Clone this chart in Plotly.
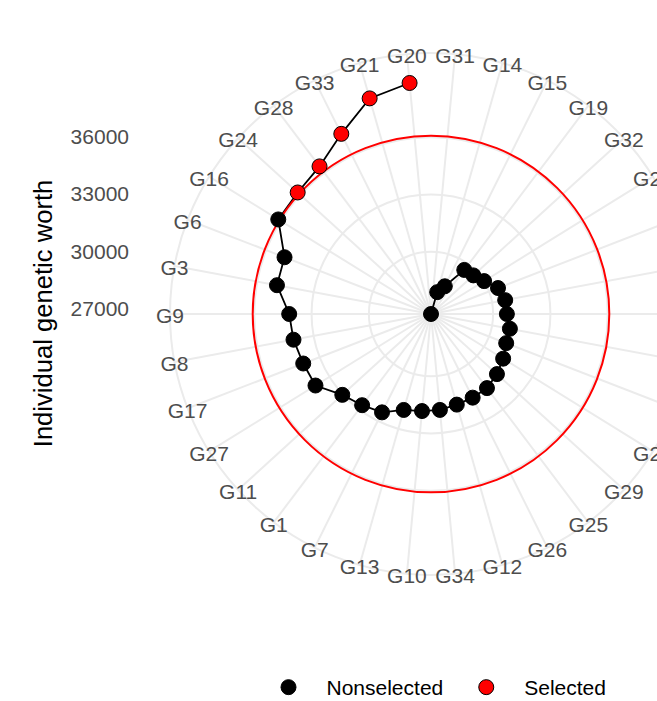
import plotly.graph_objects as go

# ---- data ----
genotypes = ["G31", "G14", "G15", "G19", "G32", "G22", "G4", "G18", "G30", "G5",
             "G2", "G23", "G29", "G25", "G26", "G12", "G34", "G10", "G13", "G7",
             "G1", "G11", "G27", "G17", "G8", "G9", "G3", "G6", "G16", "G24",
             "G28", "G33", "G21", "G20"]
worth = [26750, 27940, 28370, 29640, 29750, 30020, 30510, 30700, 30720, 30950,
         30970, 31190, 31420, 31610, 31640, 31680, 31790, 31850, 31970, 32500,
         32730, 33030, 33860, 33920, 34070, 34170, 34950, 34970, 36150, 36190,
         36430, 37280, 38480, 38890]
selected = ["G24", "G28", "G33", "G21", "G20"]
threshold = 36080
r_ticks = [27000, 30000, 33000, 36000]
r_ticktext = ["27000", "30000", "33000", "36000"]
legend_names = ["Nonselected", "Selected"]
y_title = "Individual genetic worth"

# ---- layout geometry (pixels measured from the top-left of the page) ----
W, H = 728, 708
rmin, rmax = min(worth), max(worth)
r_edge = rmin + (rmax - rmin) * 0.45 / 0.4   # ggplot polar: data to 0.4, grid to 0.45

cx_px, cy_px, R_px = 431, 314, 261


def dom(cy):
    return dict(x=[(cx_px - R_px) / W, (cx_px + R_px) / W],
                y=[(H - cy - R_px) / H, (H - cy + R_px) / H])


GRID = "#EBEBEB"
FONT = "Liberation Sans, Arial, sans-serif"
TXT = "#4D4D4D"
FS = 21

fig = go.Figure()

# connecting line (grid layer)
fig.add_trace(go.Scatterpolar(
    r=worth, theta=genotypes, mode="lines", line=dict(color="black", width=1.8),
    showlegend=False, hoverinfo="skip", subplot="polar", cliponaxis=False))

non_g = [g for g in genotypes if g not in selected]
non_v = [v for g, v in zip(genotypes, worth) if g not in selected]
sel_g = [g for g in genotypes if g in selected]
sel_v = [v for g, v in zip(genotypes, worth) if g in selected]

fig.add_trace(go.Scatterpolar(
    r=non_v, theta=non_g, mode="markers", name=legend_names[0],
    marker=dict(color="black", size=15, line=dict(color="black", width=1)),
    subplot="polar2", cliponaxis=False))
fig.add_trace(go.Scatterpolar(
    r=sel_v, theta=sel_g, mode="markers", name=legend_names[1],
    marker=dict(color="red", size=15, line=dict(color="black", width=1)),
    subplot="polar2", cliponaxis=False))

# category labels centred on the outer grid circle
fig.add_trace(go.Scatterpolar(
    r=[r_edge] * len(genotypes), theta=genotypes, mode="text", text=genotypes,
    textposition="middle center", textfont=dict(family=FONT, size=FS, color=TXT),
    cliponaxis=False, showlegend=False, hoverinfo="skip", subplot="polar3"))

# dummy trace to carry the left value axis
fig.add_trace(go.Scatter(x=[None], y=[None], showlegend=False, hoverinfo="skip"))

ang_common = dict(type="category", categoryorder="array", categoryarray=genotypes,
                  rotation=90 - 180 / len(genotypes), direction="clockwise",
                  showticklabels=False, ticks="", layer="below traces")
hidden_r = dict(range=[rmin, r_edge], showticklabels=False, ticks="", showline=False,
                layer="below traces")

fig.update_layout(
    width=W, height=H,
    margin=dict(l=0, r=0, t=0, b=0),
    paper_bgcolor="white", plot_bgcolor="white",
    polar=dict(
        domain=dom(cy_px), bgcolor="rgba(0,0,0,0)",
        radialaxis=dict(**hidden_r, tickvals=r_ticks, gridcolor=GRID, gridwidth=2),
        angularaxis=dict(**ang_common, showline=True, linecolor=GRID, linewidth=2,
                         showgrid=True, gridcolor=GRID, gridwidth=2),
    ),
    polar2=dict(
        domain=dom(cy_px), bgcolor="rgba(0,0,0,0)",
        radialaxis=dict(**hidden_r, tickvals=[threshold], showgrid=True,
                        gridcolor="red", gridwidth=2),
        angularaxis=dict(**ang_common, showline=False, showgrid=False),
    ),
    polar3=dict(
        domain=dom(cy_px + 4), bgcolor="rgba(0,0,0,0)",
        radialaxis=dict(**hidden_r, showgrid=False),
        angularaxis=dict(**ang_common, showline=False, showgrid=False),
    ),
    xaxis=dict(domain=[130 / W, 1], range=[0, 1], visible=False),
    yaxis=dict(domain=dom(cy_px - 0.5)["y"], range=[rmin - (r_edge - rmin), r_edge],
               tickvals=r_ticks, ticktext=r_ticktext, showgrid=False, zeroline=False,
               showline=False, ticks="", tickfont=dict(family=FONT, size=FS, color=TXT),
               title=dict(text=y_title, font=dict(family=FONT, size=25.6, color="black"),
                          standoff=10),
               automargin=False, fixedrange=True),
    legend=dict(orientation="h", x=431 / W, xanchor="center", y=0,
                yanchor="bottom", font=dict(family=FONT, size=FS, color="black"),
                bgcolor="rgba(0,0,0,0)", itemwidth=66),
    showlegend=True,
)

fig.write_html("out.html",
               post_script="document.body.style.overflow='hidden';"
                           "document.documentElement.style.overflow='hidden';")
